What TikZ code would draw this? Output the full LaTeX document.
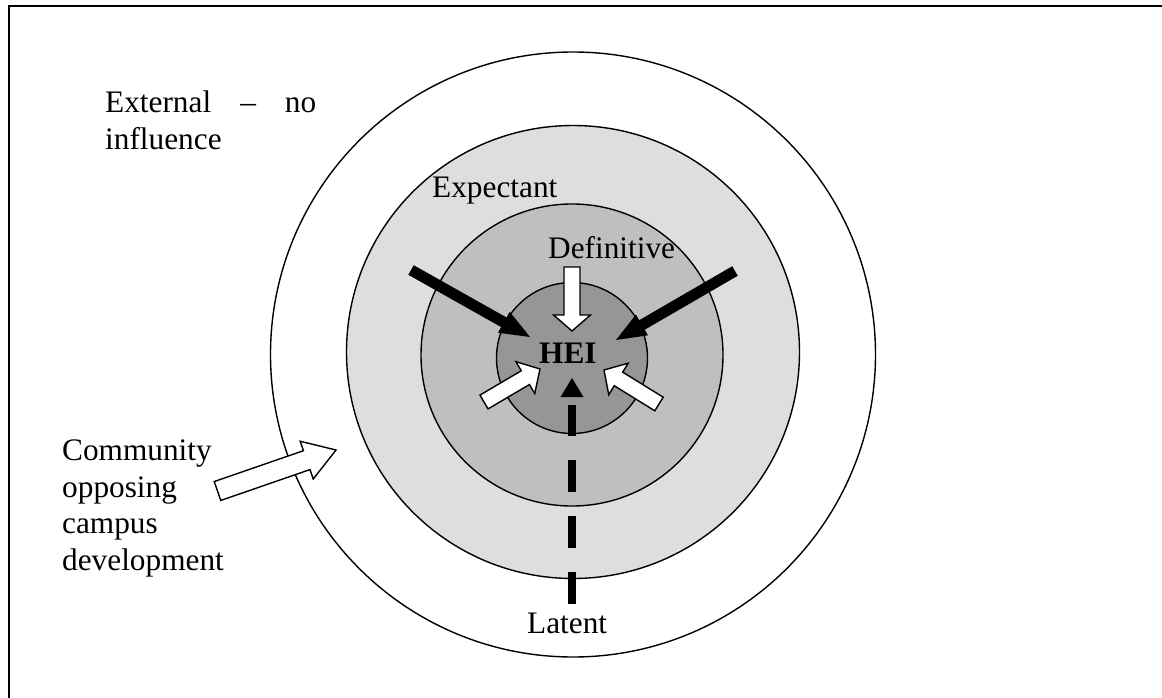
\documentclass[tikz,border=0pt]{standalone}
\usepackage{fontspec}
\setmainfont{Liberation Serif}
\usetikzlibrary{calc}

\definecolor{ringlight}{gray}{0.87}
\definecolor{ringmid}{gray}{0.75}
\definecolor{ringcore}{gray}{0.59}

\tikzset{
  frameline/.style={line width=2pt, line cap=rect},
  ring/.style={draw=black, line width=1.4pt},
  lbl/.style={inner sep=0pt, anchor=base west, align=left,
    font=\fontsize{31.3}{36.5}\selectfont},
  solidarrow/.style={fill=black},
  hollowarrow/.style={fill=white, draw=black, line width=1.4pt, line join=miter},
  latentline/.style={line width=8pt, dash pattern=on 32pt off 24pt},
}

% block arrow: #1 style, #2 tail, #3 tip, #4 half shaft width, #5 half head width, #6 head length
\newcommand\blockarrow[6]{%
  \coordinate (#3-base) at ($(#3)!#6!(#2)$);
  \path[#1] ($(#2)!#4!90:(#3)$) -- ($(#3-base)!#4!90:(#3)$)
    -- ($(#3-base)!#5!90:(#3)$) -- (#3)
    -- ($(#3-base)!#5!-90:(#3)$) -- ($(#3-base)!#4!-90:(#3)$)
    -- ($(#2)!#4!-90:(#3)$) -- cycle;
}

\begin{document}
\begin{tikzpicture}[x=1pt, y=-1pt]
\useasboundingbox (0,0) rectangle (1162,698);

% open frame (top and left edges)
\draw[frameline] (1170,6) -- (9,6) -- (9,710);

% stakeholder rings
\filldraw[ring, fill=white]     (573,354.5) circle (302.5);
\filldraw[ring, fill=ringlight] (573,352)   circle (226.5);
\filldraw[ring, fill=ringmid]   (572,355)   circle (151);
\filldraw[ring, fill=ringcore]  (572,358)   circle (75.5);

% labels (multi-line labels are anchored on their last baseline)
\node[lbl] (external) at (105,149.5) {\hbox to 211pt{External\hfill–\hfill no}\\influence};
\node[lbl] (community) at (62,570) {Community\\opposing\\campus\\development};
\node[lbl] (expectant) at (432,197) {Expectant};
\node[lbl] (definitive) at (548,258) {Definitive};
\node[lbl, font=\fontsize{31.3}{36.5}\selectfont\bfseries] (hei) at (539,363) {HEI};
\node[lbl] (latent) at (527,633) {Latent};

% arrow end points
\coordinate (blackL-tail) at (411,270);
\coordinate (blackL-tip)  at (530,337);
\coordinate (blackR-tail) at (735,271);
\coordinate (blackR-tip)  at (616,340);
\coordinate (whiteT-tail) at (572,267);
\coordinate (whiteT-tip)  at (572,331);
\coordinate (whiteL-tail) at (484,402);
\coordinate (whiteL-tip)  at (540,369);
\coordinate (whiteR-tail) at (659,404);
\coordinate (whiteR-tip)  at (604,370);
\coordinate (comm-tail)   at (217.5,491);
\coordinate (comm-tip)    at (336,450);
\coordinate (latent-foot) at (572,604);
\coordinate (latent-end)  at (572,405);
\coordinate (latent-tip)  at (572,378);

% definitive (black) pressures
\blockarrow{solidarrow}{blackL-tail}{blackL-tip}{5.5pt}{12pt}{30pt}
\blockarrow{solidarrow}{blackR-tail}{blackR-tip}{5.5pt}{12pt}{30pt}

% inner hollow arrows
\blockarrow{hollowarrow}{whiteT-tail}{whiteT-tip}{8pt}{18.5pt}{16pt}
\blockarrow{hollowarrow}{whiteL-tail}{whiteL-tip}{8pt}{18.5pt}{17pt}
\blockarrow{hollowarrow}{whiteR-tail}{whiteR-tip}{8pt}{18.5pt}{17pt}

% community arrow
\blockarrow{hollowarrow}{comm-tail}{comm-tip}{10pt}{20pt}{31pt}

% latent influence
\draw[latentline] (latent-foot) -- (latent-end);
\fill ($(latent-tip)+(-11.5,19)$) -- (latent-tip) -- ($(latent-tip)+(11.5,19)$) -- cycle;
\end{tikzpicture}
\end{document}
